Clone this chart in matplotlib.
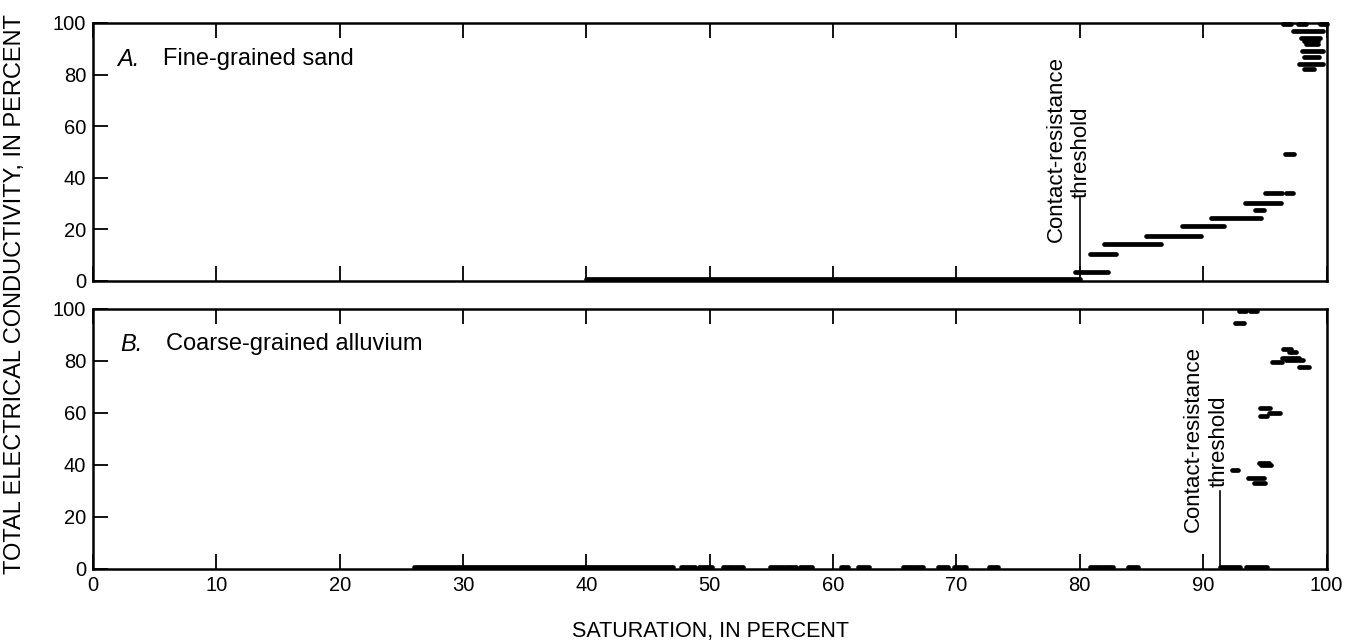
import matplotlib
matplotlib.use("Agg")
import matplotlib.pyplot as plt

plt.rcParams['font.family'] = ['Liberation Sans', 'DejaVu Sans']

# ---- Data (range marks: y value, start saturation, end saturation) ----
a_y  = [0.8, 3.6, 10.3, 14.5, 17.4, 21.3, 24.3, 27.4, 30.3, 34.2, 34.2, 49.3,
        99.5, 99.5, 99.5, 96.9, 94.3, 93.0, 91.7, 89.1, 87.0, 84.0, 82.0]
a_x0 = [40.0, 79.6, 80.8, 82.0, 85.4, 88.3, 90.6, 94.2, 93.4, 95.0, 96.7, 96.6,
        96.5, 97.7, 99.5, 97.3, 97.9, 98.2, 98.3, 98.0, 98.2, 97.8, 98.2]
a_x1 = [80.0, 82.3, 82.9, 86.6, 89.8, 91.7, 94.7, 94.9, 96.3, 96.4, 97.3, 97.4,
        97.1, 98.3, 100.0, 99.7, 99.5, 99.3, 99.3, 99.7, 99.4, 99.7, 99.0]

b_y  = [0.8] * 20 + [99.3, 99.3, 94.7, 84.7, 83.6, 81.3, 80.5, 79.6, 77.7,
                     61.9, 59.9, 58.7, 40.9, 40.0, 38.1, 35.1, 33.1]
b_x0 = [26.0, 47.7, 49.1, 51.1, 52.0, 54.9, 56.1, 57.3, 60.6, 62.0, 65.7, 66.6,
        68.5, 69.8, 72.6, 80.8, 81.8, 83.9, 91.4, 93.5,
        92.9, 93.8, 92.6, 96.5, 97.0, 96.4, 96.7, 95.6, 97.8,
        94.6, 95.3, 94.6, 94.5, 94.7, 92.3, 93.6, 94.1]
b_x1 = [47.0, 48.8, 50.2, 51.8, 52.7, 55.9, 57.0, 58.3, 61.2, 62.9, 66.5, 67.3,
        69.3, 70.8, 73.4, 81.6, 82.7, 84.7, 93.0, 95.2,
        93.5, 94.4, 93.3, 97.1, 97.5, 97.8, 98.1, 96.4, 98.6,
        95.4, 96.2, 95.2, 95.3, 95.5, 92.8, 94.9, 95.0]

x_ticks = [0, 10, 20, 30, 40, 50, 60, 70, 80, 90, 100]
y_ticks = [0, 20, 40, 60, 80, 100]

threshold_a = 80.0
threshold_b = 91.4

# ---- Figure ----
W, H = 1352, 642
fig = plt.figure(figsize=(W / 100, H / 100), dpi=100)

def frac_axes(left, top, right, bottom):
    return fig.add_axes([left / W, 1 - bottom / H, (right - left) / W, (bottom - top) / H])

axA = frac_axes(93, 23, 1326.5, 281)
axB = frac_axes(93, 309, 1326.5, 569)

def style(ax, show_xlabels):
    ax.set_xlim(0, 100)
    ax.set_ylim(0, 100)
    ax.set_xticks(x_ticks)
    ax.set_yticks(y_ticks)
    ax.tick_params(axis='both', direction='in', length=11, width=1.3,
                   labelsize=14.5, colors='black', pad=5)
    ax.tick_params(axis='x', top=True, bottom=True, labelbottom=show_xlabels)
    ax.tick_params(axis='y', left=True, right=False)
    for s in ax.spines.values():
        s.set_linewidth(1.8)
        s.set_color('black')

style(axA, False)
style(axB, True)

for ax, ys, x0s, x1s in [(axA, a_y, a_x0, a_x1), (axB, b_y, b_x0, b_x1)]:
    lc = ax.hlines(ys, x0s, x1s, colors='black', linewidth=3.4)
    lc.set_capstyle('round')
    lc.set_clip_on(False)

# Panel titles
TS = 17
axA.text(0.020, 0.86, "A.", transform=axA.transAxes, fontsize=TS,
         style='italic', va='center', ha='left')
axA.text(0.057, 0.86, "Fine-grained sand", transform=axA.transAxes,
         fontsize=TS, va='center', ha='left')
axB.text(0.022, 0.865, "B.", transform=axB.transAxes, fontsize=TS,
         style='italic', va='center', ha='left')
axB.text(0.059, 0.865, "Coarse-grained alluvium", transform=axB.transAxes,
         fontsize=TS, va='center', ha='left')

# Threshold annotations
AS = 16
axA.plot([threshold_a, threshold_a], [2.7, 32.3], color='black', lw=1.2)
axA.text(78.1, 51.2, "Contact-resistance", rotation=90, fontsize=AS,
         ha='center', va='center')
axA.text(80.1, 50.0, "threshold", rotation=90, fontsize=AS,
         ha='center', va='center')

axB.plot([threshold_b, threshold_b], [0.5, 30.0], color='black', lw=1.2)
axB.text(89.2, 50.0, "Contact-resistance", rotation=90, fontsize=AS,
         ha='center', va='center')
axB.text(91.3, 49.2, "threshold", rotation=90, fontsize=AS,
         ha='center', va='center')

# Axis labels
fig.text(15 / W, 1 - 294 / H, "TOTAL ELECTRICAL CONDUCTIVITY, IN PERCENT",
         rotation=90, ha='center', va='center', fontsize=17)
fig.text(711 / W, 1 - 631 / H, "SATURATION, IN PERCENT",
         ha='center', va='center', fontsize=15.5)

fig.savefig("out.png", dpi=100, facecolor='white')
